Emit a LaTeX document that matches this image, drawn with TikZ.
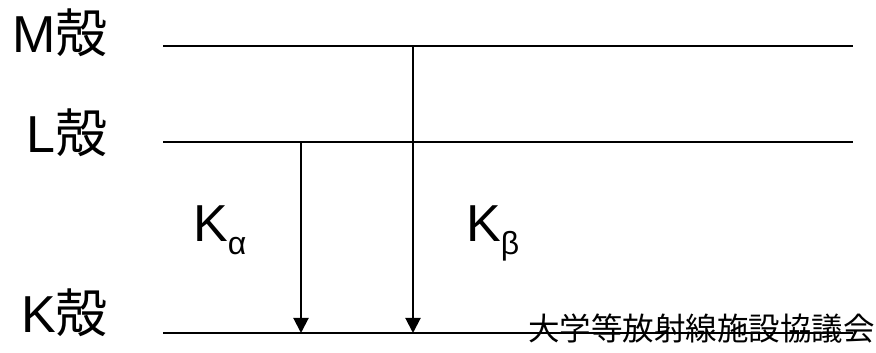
\documentclass[tikz,border=0pt]{standalone}
\usepackage{fontspec}
\setmainfont{Liberation Sans}
\newfontfamily\cjk{Noto Sans CJK JP}
\usetikzlibrary{arrows.meta}

\begin{document}
\begin{tikzpicture}[x=1pt, y=1pt,
      every node/.style={inner sep=0pt, font=\fontsize{52}{52}\selectfont},
      level/.style={line width=2.6pt},
      trans/.style={line width=2pt, -{Triangle[width=15pt, length=15pt]}}]
    \useasboundingbox (0,0) rectangle (876,353);
    % shells
    \coordinate (m0) at (163,307); \coordinate (m1) at (853,307);
    \coordinate (l0) at (163,211); \coordinate (l1) at (853,211);
    \coordinate (k0) at (163,20);  \coordinate (k1) at (853,20);
    \draw[level] (m0) -- (m1);
    \draw[level] (l0) -- (l1);
    \draw[level] (k0) -- (k1);
    \node[anchor=base east] (mlab) at (108,300) {M{\cjk 殻}};
    \node[anchor=base east] (llab) at (108,200) {L{\cjk 殻}};
    \node[anchor=base east] (klab) at (108,20) {K{\cjk 殻}};
    % transitions
    \coordinate (ka0) at (301,211); \coordinate (ka1) at (301,20);
    \coordinate (kb0) at (413,307); \coordinate (kb1) at (413,20);
    \draw[trans] (ka0) -- (ka1);
    \draw[trans] (kb0) -- (kb1);
    \node[anchor=base west] (kalpha) at (193,111) {K\raisebox{-13pt}{\fontsize{32}{32}\selectfont α}};
    \node[anchor=base west] (kbeta) at (466,111) {K\raisebox{-13pt}{\fontsize{32}{32}\selectfont β}};
    \node[anchor=base east, font=\fontsize{31.5}{31.5}\cjk] (src) at (875,12) {大学等放射線施設協議会};
\end{tikzpicture}
\end{document}
